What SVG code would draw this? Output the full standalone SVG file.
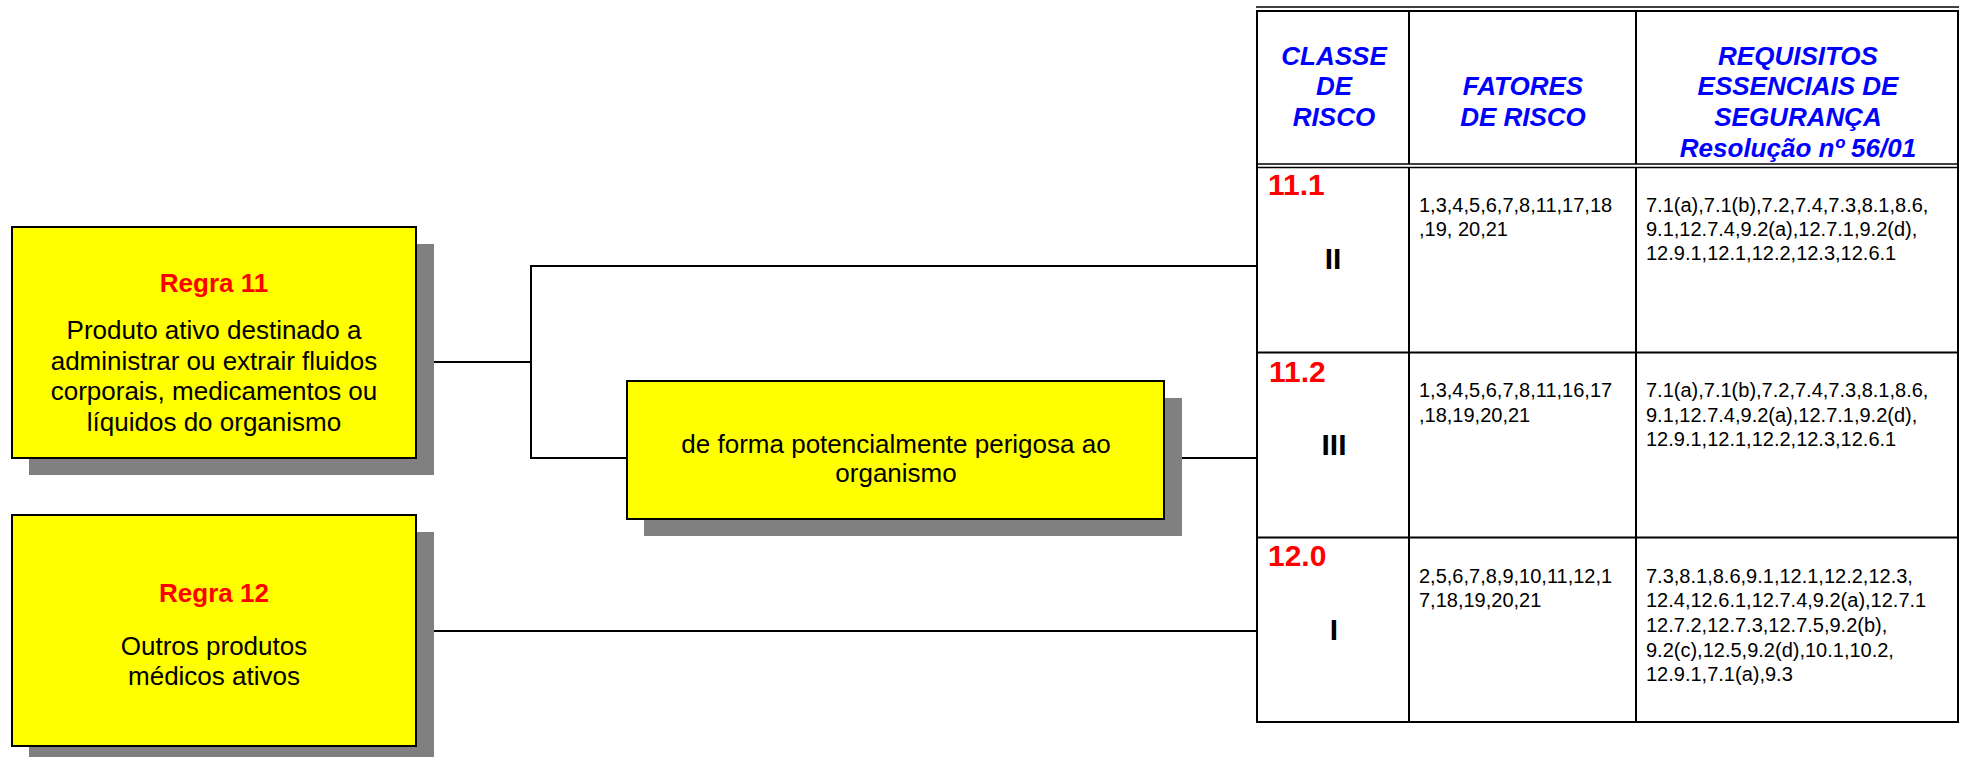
<svg xmlns="http://www.w3.org/2000/svg" width="1961" height="757" viewBox="0 0 1961 757">
<style>
text{font-family:"Liberation Sans",Arial,sans-serif;}
.box{fill:#FFFF00;stroke:#000;stroke-width:2;}
.shadow{fill:#808080;stroke:none;}
.conn{stroke:#000;stroke-width:2;fill:none;}
.tl{stroke:#000;stroke-width:2;fill:none;}
.tl1{stroke:#000;stroke-width:1.6;fill:none;}
.title{font-size:26px;font-weight:bold;fill:#FF0000;text-anchor:middle;}
.body{font-size:26px;fill:#000;text-anchor:middle;}
.hdr{font-size:26px;font-weight:bold;font-style:italic;fill:#0000FF;text-anchor:middle;}
.code{font-size:30px;font-weight:bold;fill:#FF0000;}
.cls{font-size:30px;font-weight:bold;fill:#000;text-anchor:middle;}
.cell{font-size:20px;fill:#000;}
</style>
<rect width="1961" height="757" fill="#FFFFFF"/>
<g id="connectors">
<polyline class="conn" points="416,362 531,362"/>
<polyline class="conn" points="1257,266 531,266 531,458 627,458"/>
<polyline class="conn" points="1164,458 1257,458"/>
<polyline class="conn" points="416,631 1257,631"/>
</g>
<g id="regra11">
<rect class="shadow" x="29" y="244" width="405" height="231"/>
<rect class="box" x="12" y="227" width="404" height="231"/>
<text class="title" x="214" y="292">Regra 11</text>
<text class="body" x="214" y="339">Produto ativo destinado a</text>
<text class="body" x="214" y="369.5">administrar ou extrair fluidos</text>
<text class="body" x="214" y="400">corporais, medicamentos ou</text>
<text class="body" x="214" y="430.5">líquidos do organismo</text>
</g>
<g id="perigosa">
<rect class="shadow" x="644" y="398" width="538" height="138"/>
<rect class="box" x="627" y="381" width="537" height="138"/>
<text class="body" x="896" y="453">de forma potencialmente perigosa ao</text>
<text class="body" x="896" y="482">organismo</text>
</g>
<g id="regra12">
<rect class="shadow" x="29" y="532" width="405" height="231"/>
<rect class="box" x="12" y="515" width="404" height="231"/>
<text class="title" x="214" y="602">Regra 12</text>
<text class="body" x="214" y="655">Outros produtos</text>
<text class="body" x="214" y="685">médicos ativos</text>
</g>
<g id="tabela">
<line class="tl1" x1="1256" y1="7" x2="1959" y2="7"/>
<rect class="tl" x="1257" y="11" width="701" height="711"/>
<line class="tl1" x1="1257" y1="164" x2="1958" y2="164"/>
<line class="tl1" x1="1257" y1="167.5" x2="1958" y2="167.5"/>
<line class="tl" x1="1257" y1="352.5" x2="1958" y2="352.5"/>
<line class="tl" x1="1257" y1="537.5" x2="1958" y2="537.5"/>
<line class="tl" x1="1409" y1="11" x2="1409" y2="164"/>
<line class="tl" x1="1409" y1="167.5" x2="1409" y2="722"/>
<line class="tl" x1="1636" y1="11" x2="1636" y2="164"/>
<line class="tl" x1="1636" y1="167.5" x2="1636" y2="722"/>
<text class="hdr" x="1334" y="65">CLASSE</text>
<text class="hdr" x="1334" y="95">DE</text>
<text class="hdr" x="1334" y="126">RISCO</text>
<text class="hdr" x="1523" y="95">FATORES</text>
<text class="hdr" x="1523" y="126">DE RISCO</text>
<text class="hdr" x="1798" y="65">REQUISITOS</text>
<text class="hdr" x="1798" y="95">ESSENCIAIS DE</text>
<text class="hdr" x="1798" y="126">SEGURANÇA</text>
<text class="hdr" x="1798" y="156.5">Resolução nº 56/01</text>
</g>
<g id="classe-11-1">
<text class="code" x="1268" y="195">11.1</text>
<text class="cls" x="1333" y="269">II</text>
<text class="cell" x="1419" y="212">1,3,4,5,6,7,8,11,17,18</text>
<text class="cell" x="1419" y="236">,19, 20,21</text>
<text class="cell" x="1646" y="212">7.1(a),7.1(b),7.2,7.4,7.3,8.1,8.6,</text>
<text class="cell" x="1646" y="236">9.1,12.7.4,9.2(a),12.7.1,9.2(d),</text>
<text class="cell" x="1646" y="260">12.9.1,12.1,12.2,12.3,12.6.1</text>
</g>
<g id="classe-11-2">
<text class="code" x="1269" y="382">11.2</text>
<text class="cls" x="1334" y="455">III</text>
<text class="cell" x="1419" y="397">1,3,4,5,6,7,8,11,16,17</text>
<text class="cell" x="1419" y="421.5">,18,19,20,21</text>
<text class="cell" x="1646" y="397">7.1(a),7.1(b),7.2,7.4,7.3,8.1,8.6,</text>
<text class="cell" x="1646" y="421.5">9.1,12.7.4,9.2(a),12.7.1,9.2(d),</text>
<text class="cell" x="1646" y="446">12.9.1,12.1,12.2,12.3,12.6.1</text>
</g>
<g id="classe-12-0">
<text class="code" x="1268" y="566">12.0</text>
<text class="cls" x="1334" y="640">I</text>
<text class="cell" x="1419" y="582.5">2,5,6,7,8,9,10,11,12,1</text>
<text class="cell" x="1419" y="607">7,18,19,20,21</text>
<text class="cell" x="1646" y="582.5">7.3,8.1,8.6,9.1,12.1,12.2,12.3,</text>
<text class="cell" x="1646" y="607">12.4,12.6.1,12.7.4,9.2(a),12.7.1</text>
<text class="cell" x="1646" y="632">12.7.2,12.7.3,12.7.5,9.2(b),</text>
<text class="cell" x="1646" y="656.5">9.2(c),12.5,9.2(d),10.1,10.2,</text>
<text class="cell" x="1646" y="681">12.9.1,7.1(a),9.3</text>
</g>
</svg>
